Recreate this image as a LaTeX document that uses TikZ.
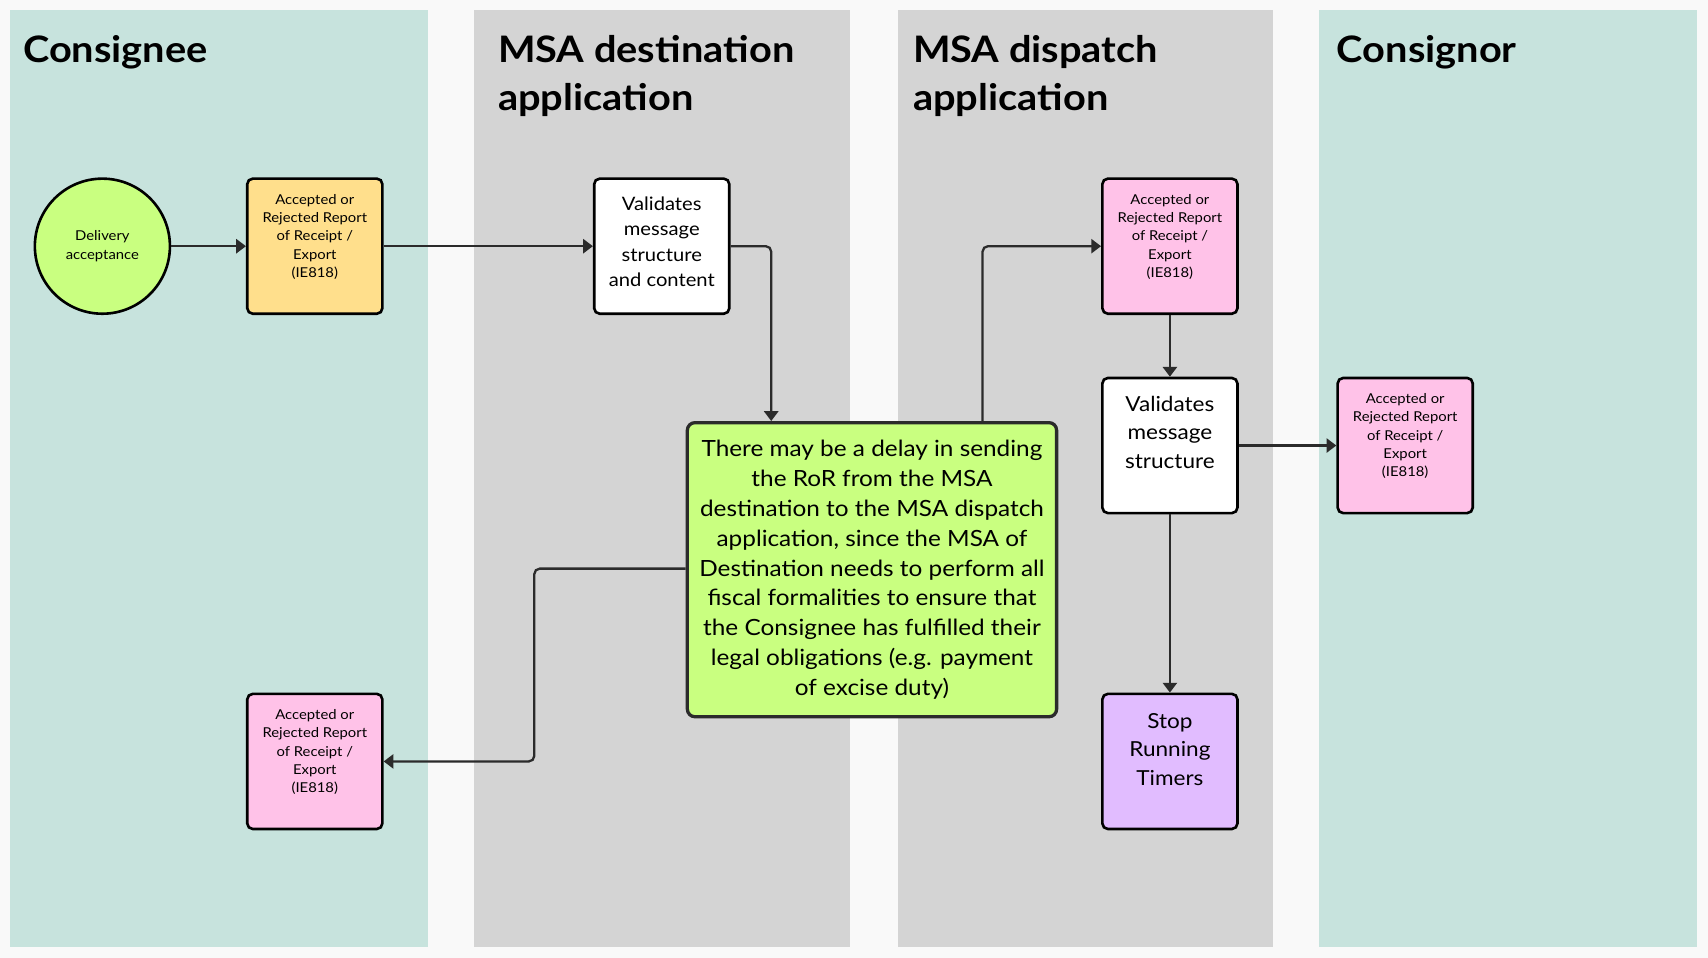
\documentclass[tikz,border=0pt]{standalone}
\usepackage{fontspec}
\setmainfont{Lato}[FakeStretch=1.09]
\usetikzlibrary{arrows.meta}
\definecolor{bgc}{HTML}{F9F9F9}
\definecolor{teal}{HTML}{C7E3DD}
\definecolor{lanegray}{HTML}{D4D4D4}
\definecolor{lime}{HTML}{C9FF80}
\definecolor{peach}{HTML}{FFDF8C}
\definecolor{pinkc}{HTML}{FFC2E8}
\definecolor{lav}{HTML}{E1BCFF}
\definecolor{linec}{HTML}{2B2B2B}
\tikzset{
  lanetitle/.style={anchor=base west, font=\fontsize{33.5}{44}\selectfont\bfseries, inner sep=0pt},
  box/.style={draw=black, line width=2.4pt, rounded corners=5pt, minimum width=124pt, minimum height=124pt, inner sep=0pt},
  smalltxt/.style={font=\fontsize{12.5}{16.8}\selectfont, align=center},
  midtxt/.style={font=\fontsize{17}{23.3}\selectfont, align=center},
  bigtxt/.style={font=\fontsize{19}{26}\selectfont, align=center},
  conn/.style={draw=linec, line width=2.1pt, rounded corners=5pt, -{Triangle[length=9pt,width=13pt]}},
}
\begin{document}
\begin{tikzpicture}[x=1pt,y=-1pt]
\fill[bgc] (0,0) rectangle (1568,879);
\useasboundingbox (0,0) rectangle (1568,879);
% lanes
\fill[teal] (9,9) rectangle (393,869);
\fill[lanegray] (435,9) rectangle (780,869);
\fill[lanegray] (824,9) rectangle (1169,869);
\fill[teal] (1211,9) rectangle (1558,869);
\node[lanetitle] (t1) at (21,57) {Consignee};
\node[lanetitle] (t2a) at (457,57) {MSA destination};
\node[lanetitle] (t2b) at (457,101) {application};
\node[lanetitle] (t3a) at (838,57) {MSA dispatch};
\node[lanetitle] (t3b) at (838,101) {application};
\node[lanetitle] (t4) at (1227,57) {Consignor};
% nodes
\node[circle, draw=black, line width=2.4pt, fill=lime, minimum size=124pt, inner sep=0pt, smalltxt] (da) at (94,226) {Delivery\\acceptance};
\node[box, fill=peach, label={[smalltxt, yshift=8.5pt]center:Accepted or\\Rejected Report\\of Receipt /\\Export\\(IE818)}] (r1) at (289,226) {};
\node[box, fill=white, label={[midtxt, yshift=4pt]center:Validates\\message\\structure\\and content}] (v1) at (607.5,226) {};
\node[draw=linec, line width=3pt, rounded corners=7pt, fill=lime, minimum width=339pt, minimum height=270pt, inner sep=0pt, font=\fontsize{20.5}{27.5}\selectfont, align=center] (note) at (800.5,523) {There may be a delay in sending\\the RoR from the MSA\\destination to the MSA dispatch\\application, since the MSA of\\Destination needs to perform all\\fiscal formalities to ensure that\\the Consignee has fulfilled their\\legal obligations (e.g. payment\\of excise duty)};
\node[box, fill=pinkc, label={[smalltxt, yshift=8.5pt]center:Accepted or\\Rejected Report\\of Receipt /\\Export\\(IE818)}] (r2) at (1074,226) {};
\node[box, fill=white, label={[bigtxt, yshift=12pt]center:Validates\\message\\structure}] (v2) at (1074,409) {};
\node[box, fill=lav, label={[bigtxt, yshift=11pt]center:Stop\\Running\\Timers}] (st) at (1074,699) {};
\node[box, fill=pinkc, label={[smalltxt, yshift=8.5pt]center:Accepted or\\Rejected Report\\of Receipt /\\Export\\(IE818)}] (r3) at (1290,409) {};
\node[box, fill=pinkc, label={[smalltxt, yshift=8.5pt]center:Accepted or\\Rejected Report\\of Receipt /\\Export\\(IE818)}] (r4) at (289,699) {};
% connectors
\draw[conn] (da) -- (r1);
\draw[conn] (r1) -- (v1);
\draw[conn] (v1.east) -| ([xshift=-92.5pt]note.north);
\draw[conn] ([xshift=101.5pt]note.north) |- (r2.west);
\draw[conn] (r2) -- (v2);
\draw[conn] (v2) -- (r3);
\draw[conn] (v2) -- (st);
\draw[conn] ([yshift=1pt]note.west) -- ++(-139,0) |- (r4.east);
\end{tikzpicture}
\end{document}
